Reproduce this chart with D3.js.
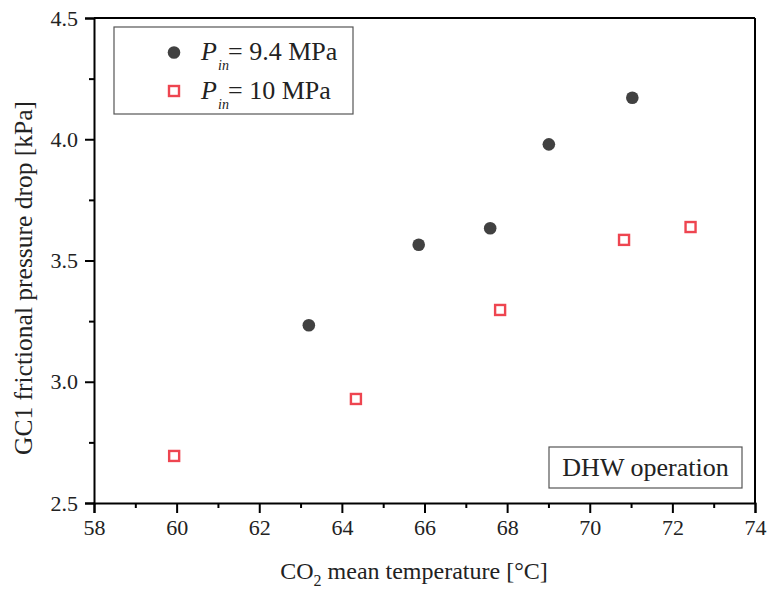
<!DOCTYPE html>
<html>
<head>
<meta charset="utf-8">
<script src="https://cdn.jsdelivr.net/npm/d3@7"></script>
<style>
  html, body { margin: 0; padding: 0; background: #fff; }
  svg { display: block; font-family: "Liberation Serif", "Times New Roman", serif; }
</style>
</head>
<body>
<svg id="chart" width="769" height="590"></svg>
<script>
// Measured GC1 frictional pressure drop vs. CO2 mean temperature
const tempP94 = [63.2, 65.86, 67.59, 69.01, 71.03];
const dropP94 = [3.233, 3.565, 3.633, 3.979, 4.171];
const tempP10 = [59.94, 64.34, 67.83, 70.83, 72.44];
const dropP10 = [2.694, 2.929, 3.296, 3.585, 3.638];
const xTicks = [58, 60, 62, 64, 66, 68, 70, 72, 74];
const yTicks = [2.5, 3.0, 3.5, 4.0, 4.5];
const seriesLabels = ["= 9.4 MPa", "= 10 MPa"];

const svg = d3.select("#chart");
const m = { left: 94, right: 755, top: 18, bottom: 503 };

const x = d3.scaleLinear().domain([58, 74]).range([m.left, m.right]);
const y = d3.scaleLinear().domain([2.5, 4.5]).range([m.bottom, m.top]);

const tickFont = 22;
const textColor = "#222";

// Frame: top and right lines without ticks
svg.append("line").attr("x1", m.left).attr("x2", m.right).attr("y1", m.top).attr("y2", m.top)
  .attr("stroke", "#000").attr("stroke-width", 2);
svg.append("line").attr("x1", m.right).attr("x2", m.right).attr("y1", m.top).attr("y2", m.bottom)
  .attr("stroke", "#000").attr("stroke-width", 2);

// Bottom axis with major and minor ticks
const xMinor = svg.append("g").attr("transform", `translate(0,${m.bottom})`)
  .call(d3.axisBottom(x).tickValues(d3.range(59, 74, 2)).tickSize(5).tickFormat(""));
xMinor.select(".domain").remove();
const xMajor = svg.append("g").attr("transform", `translate(0,${m.bottom})`)
  .call(d3.axisBottom(x).tickValues(xTicks).tickSize(10).tickPadding(6).tickFormat(d3.format("d")));

// Left axis with major and minor ticks
const yMinor = svg.append("g").attr("transform", `translate(${m.left},0)`)
  .call(d3.axisLeft(y).tickValues([2.75, 3.25, 3.75, 4.25]).tickSize(5).tickFormat(""));
yMinor.select(".domain").remove();
const yMajor = svg.append("g").attr("transform", `translate(${m.left},0)`)
  .call(d3.axisLeft(y).tickValues(yTicks).tickSize(9).tickPadding(7).tickFormat(d3.format(".1f")));

[xMinor, xMajor, yMinor, yMajor].forEach(g => {
  g.selectAll("line").attr("stroke", "#000").attr("stroke-width", 2);
  g.selectAll("path").attr("stroke", "#000").attr("stroke-width", 2);
  g.selectAll("text").attr("font-size", tickFont).attr("fill", textColor)
    .attr("font-family", "Liberation Serif");
});

// Data markers
const dark = "#414141";
const red = "#ee4550";
const sq = 10;
svg.append("g").selectAll("circle").data(d3.zip(tempP94, dropP94)).join("circle")
  .attr("cx", d => x(d[0])).attr("cy", d => y(d[1])).attr("r", 6.3).attr("fill", dark);
svg.append("g").selectAll("rect").data(d3.zip(tempP10, dropP10)).join("rect")
  .attr("x", d => x(d[0]) - sq / 2).attr("y", d => y(d[1]) - sq / 2)
  .attr("width", sq).attr("height", sq)
  .attr("fill", "#fff").attr("stroke", red).attr("stroke-width", 2.4);

// Legend
svg.append("rect").attr("x", 114).attr("y", 27).attr("width", 239).attr("height", 87)
  .attr("fill", "#fff").attr("stroke", "#555").attr("stroke-width", 1.2);
svg.append("circle").attr("cx", 174).attr("cy", 52.5).attr("r", 6.3).attr("fill", dark);
svg.append("rect").attr("x", 174 - sq / 2).attr("y", 91 - sq / 2).attr("width", sq).attr("height", sq)
  .attr("fill", "#fff").attr("stroke", red).attr("stroke-width", 2.4);
[60, 99].forEach((by, i) => {
  svg.append("text").attr("x", 201).attr("y", by)
    .attr("font-size", 26).attr("font-style", "italic").attr("fill", textColor).text("P");
  svg.append("text").attr("x", 218).attr("y", by + 10)
    .attr("font-size", 14).attr("font-style", "italic").attr("fill", textColor).text("in");
  svg.append("text").attr("x", 228).attr("y", by)
    .attr("font-size", 26).attr("fill", textColor).text(seriesLabels[i]);
});

// Annotation box
svg.append("rect").attr("x", 549).attr("y", 447).attr("width", 193).attr("height", 41)
  .attr("fill", "#fff").attr("stroke", "#555").attr("stroke-width", 1.2);
svg.append("text").attr("x", 645.5).attr("y", 476).attr("text-anchor", "middle")
  .attr("font-size", 26).attr("fill", textColor).text("DHW operation");

// Axis titles
const xt = svg.append("text").attr("x", 414).attr("y", 579)
  .attr("text-anchor", "middle").attr("font-size", 24).attr("fill", textColor);
xt.append("tspan").text("CO");
xt.append("tspan").attr("font-size", 16).attr("dy", 7).text("2");
xt.append("tspan").attr("dy", -7).text(" mean temperature [°C]");

svg.append("text")
  .attr("transform", "translate(32,278) rotate(-90)")
  .attr("text-anchor", "middle").attr("font-size", 25.5).attr("fill", textColor)
  .text("GC1 frictional pressure drop [kPa]");
</script>
</body>
</html>
